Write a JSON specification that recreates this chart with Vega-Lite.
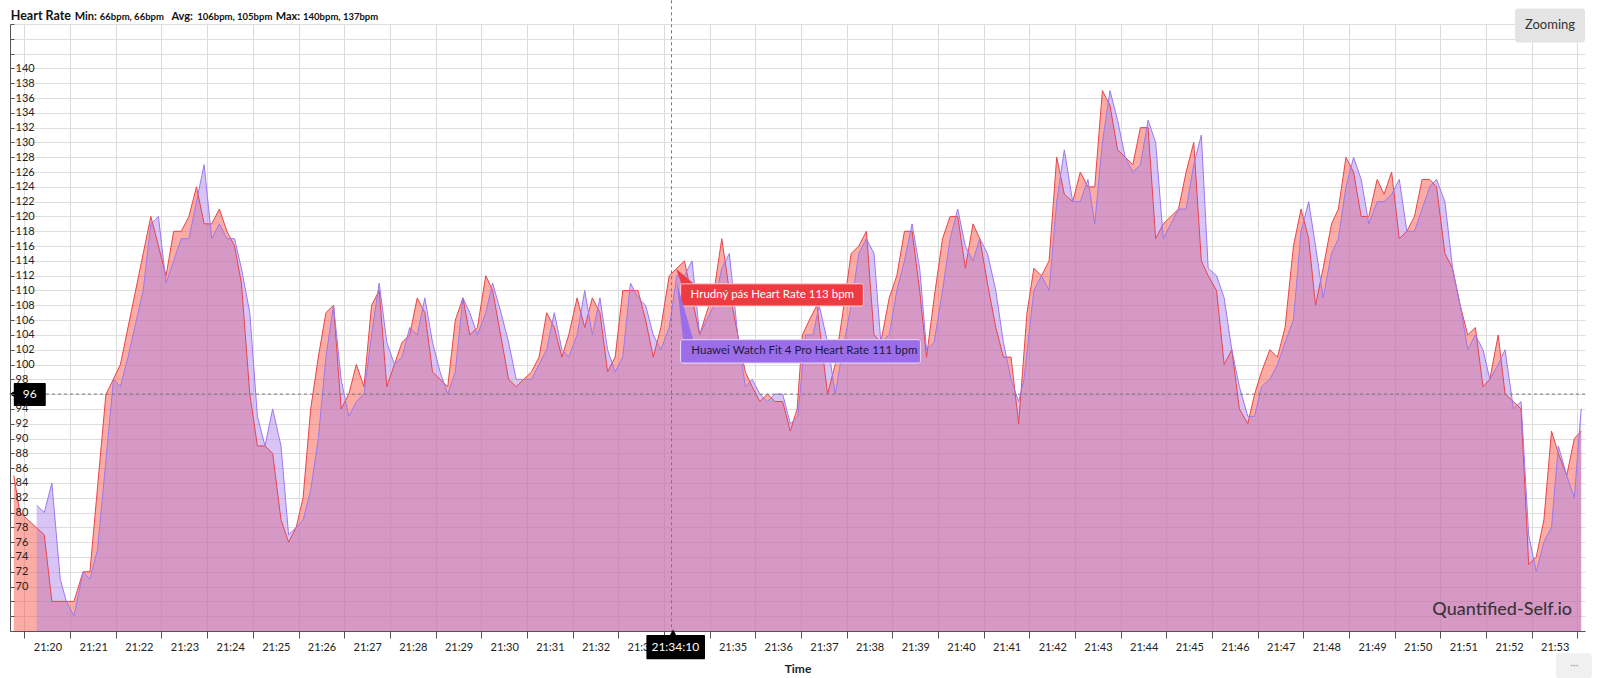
{
  "$schema": "https://vega.github.io/schema/vega-lite/v6.json",
  "width": 1575,
  "height": 607,
  "autosize": {"type": "none"},
  "padding": {"left": 10, "top": 24, "right": 15, "bottom": 47},
  "background": "white",
  "config": {"font": "Lato", "view": {"stroke": null}},
  "resolve": {"axis": {"x": "independent", "y": "independent"}},
  "datasets": {
    "red": [
      {"t":"2024-01-01T21:19:46","v":85},{"t":"2024-01-01T21:19:54","v":80},{"t":"2024-01-01T21:20:26","v":77},{"t":"2024-01-01T21:20:36","v":68},{"t":"2024-01-01T21:21:05","v":68},
      {"t":"2024-01-01T21:21:17","v":72},{"t":"2024-01-01T21:21:26","v":72},{"t":"2024-01-01T21:21:47","v":96},{"t":"2024-01-01T21:21:52","v":97},{"t":"2024-01-01T21:22:06","v":100},
      {"t":"2024-01-01T21:22:46","v":120},{"t":"2024-01-01T21:22:56","v":116},{"t":"2024-01-01T21:23:06","v":112},{"t":"2024-01-01T21:23:16","v":118},{"t":"2024-01-01T21:23:26","v":118},
      {"t":"2024-01-01T21:23:36","v":120},{"t":"2024-01-01T21:23:46","v":124},{"t":"2024-01-01T21:23:56","v":119},{"t":"2024-01-01T21:24:06","v":119},{"t":"2024-01-01T21:24:16","v":121},
      {"t":"2024-01-01T21:24:26","v":118},{"t":"2024-01-01T21:24:36","v":116},{"t":"2024-01-01T21:24:45","v":111},{"t":"2024-01-01T21:24:56","v":96},{"t":"2024-01-01T21:25:06","v":89},
      {"t":"2024-01-01T21:25:16","v":89},{"t":"2024-01-01T21:25:26","v":88},{"t":"2024-01-01T21:25:37","v":79},{"t":"2024-01-01T21:25:47","v":76},{"t":"2024-01-01T21:25:57","v":78},
      {"t":"2024-01-01T21:26:06","v":82},{"t":"2024-01-01T21:26:16","v":94},{"t":"2024-01-01T21:26:26","v":101},{"t":"2024-01-01T21:26:36","v":107},{"t":"2024-01-01T21:26:46","v":108},
      {"t":"2024-01-01T21:26:56","v":94},{"t":"2024-01-01T21:27:06","v":96},{"t":"2024-01-01T21:27:16","v":100},{"t":"2024-01-01T21:27:26","v":97},{"t":"2024-01-01T21:27:36","v":108},
      {"t":"2024-01-01T21:27:46","v":110},{"t":"2024-01-01T21:27:56","v":97},{"t":"2024-01-01T21:28:06","v":100},{"t":"2024-01-01T21:28:16","v":103},{"t":"2024-01-01T21:28:26","v":104},
      {"t":"2024-01-01T21:28:36","v":109},{"t":"2024-01-01T21:28:46","v":107},{"t":"2024-01-01T21:28:56","v":99},{"t":"2024-01-01T21:29:06","v":98},{"t":"2024-01-01T21:29:16","v":97},
      {"t":"2024-01-01T21:29:26","v":106},{"t":"2024-01-01T21:29:36","v":109},{"t":"2024-01-01T21:29:45","v":104},{"t":"2024-01-01T21:29:55","v":105},{"t":"2024-01-01T21:30:06","v":112},
      {"t":"2024-01-01T21:30:15","v":110},{"t":"2024-01-01T21:30:36","v":98},{"t":"2024-01-01T21:30:46","v":97},{"t":"2024-01-01T21:30:56","v":98},{"t":"2024-01-01T21:31:06","v":99},
      {"t":"2024-01-01T21:31:16","v":101},{"t":"2024-01-01T21:31:26","v":107},{"t":"2024-01-01T21:31:36","v":105},{"t":"2024-01-01T21:31:46","v":101},{"t":"2024-01-01T21:31:55","v":104},
      {"t":"2024-01-01T21:32:06","v":109},{"t":"2024-01-01T21:32:16","v":105},{"t":"2024-01-01T21:32:26","v":109},{"t":"2024-01-01T21:32:36","v":107},{"t":"2024-01-01T21:32:46","v":99},
      {"t":"2024-01-01T21:32:56","v":101},{"t":"2024-01-01T21:33:06","v":110},{"t":"2024-01-01T21:33:16","v":110},{"t":"2024-01-01T21:33:26","v":110},{"t":"2024-01-01T21:33:36","v":106},
      {"t":"2024-01-01T21:33:46","v":101},{"t":"2024-01-01T21:33:56","v":105},{"t":"2024-01-01T21:34:07","v":112},{"t":"2024-01-01T21:34:17","v":113},{"t":"2024-01-01T21:34:27","v":114},
      {"t":"2024-01-01T21:34:37","v":109},{"t":"2024-01-01T21:34:47","v":104},{"t":"2024-01-01T21:34:56","v":107},{"t":"2024-01-01T21:35:06","v":110},{"t":"2024-01-01T21:35:16","v":117},
      {"t":"2024-01-01T21:35:26","v":110},{"t":"2024-01-01T21:35:37","v":104},{"t":"2024-01-01T21:35:47","v":99},{"t":"2024-01-01T21:35:56","v":97},{"t":"2024-01-01T21:36:06","v":95},
      {"t":"2024-01-01T21:36:16","v":96},{"t":"2024-01-01T21:36:26","v":95},{"t":"2024-01-01T21:36:36","v":95},{"t":"2024-01-01T21:36:46","v":91},{"t":"2024-01-01T21:36:55","v":94},
      {"t":"2024-01-01T21:37:02","v":104},{"t":"2024-01-01T21:37:11","v":106},{"t":"2024-01-01T21:37:21","v":108},{"t":"2024-01-01T21:37:35","v":96},{"t":"2024-01-01T21:37:45","v":100},
      {"t":"2024-01-01T21:37:55","v":107},{"t":"2024-01-01T21:38:06","v":115},{"t":"2024-01-01T21:38:16","v":116},{"t":"2024-01-01T21:38:26","v":118},{"t":"2024-01-01T21:38:36","v":104},
      {"t":"2024-01-01T21:38:45","v":103},{"t":"2024-01-01T21:38:56","v":109},{"t":"2024-01-01T21:39:06","v":112},{"t":"2024-01-01T21:39:16","v":118},{"t":"2024-01-01T21:39:26","v":118},
      {"t":"2024-01-01T21:39:36","v":110},{"t":"2024-01-01T21:39:45","v":101},{"t":"2024-01-01T21:39:55","v":109},{"t":"2024-01-01T21:40:06","v":117},{"t":"2024-01-01T21:40:16","v":120},
      {"t":"2024-01-01T21:40:26","v":120},{"t":"2024-01-01T21:40:36","v":113},{"t":"2024-01-01T21:40:46","v":119},{"t":"2024-01-01T21:40:55","v":117},{"t":"2024-01-01T21:41:05","v":111},
      {"t":"2024-01-01T21:41:16","v":105},{"t":"2024-01-01T21:41:26","v":101},{"t":"2024-01-01T21:41:36","v":101},{"t":"2024-01-01T21:41:46","v":92},{"t":"2024-01-01T21:41:57","v":107},
      {"t":"2024-01-01T21:42:06","v":113},{"t":"2024-01-01T21:42:16","v":112},{"t":"2024-01-01T21:42:26","v":114},{"t":"2024-01-01T21:42:36","v":128},{"t":"2024-01-01T21:42:46","v":123},
      {"t":"2024-01-01T21:42:57","v":122},{"t":"2024-01-01T21:43:07","v":126},{"t":"2024-01-01T21:43:17","v":124},{"t":"2024-01-01T21:43:26","v":124},{"t":"2024-01-01T21:43:36","v":137},
      {"t":"2024-01-01T21:43:46","v":135},{"t":"2024-01-01T21:43:56","v":129},{"t":"2024-01-01T21:44:06","v":128},{"t":"2024-01-01T21:44:16","v":127},{"t":"2024-01-01T21:44:26","v":132},
      {"t":"2024-01-01T21:44:36","v":132},{"t":"2024-01-01T21:44:46","v":117},{"t":"2024-01-01T21:44:56","v":119},{"t":"2024-01-01T21:45:06","v":120},{"t":"2024-01-01T21:45:16","v":121},
      {"t":"2024-01-01T21:45:26","v":126},{"t":"2024-01-01T21:45:36","v":130},{"t":"2024-01-01T21:45:46","v":114},{"t":"2024-01-01T21:45:55","v":112},{"t":"2024-01-01T21:46:06","v":110},
      {"t":"2024-01-01T21:46:16","v":100},{"t":"2024-01-01T21:46:26","v":102},{"t":"2024-01-01T21:46:36","v":94},{"t":"2024-01-01T21:46:47","v":92},{"t":"2024-01-01T21:46:56","v":96},
      {"t":"2024-01-01T21:47:05","v":99},{"t":"2024-01-01T21:47:16","v":102},{"t":"2024-01-01T21:47:26","v":101},{"t":"2024-01-01T21:47:36","v":105},{"t":"2024-01-01T21:47:47","v":116},
      {"t":"2024-01-01T21:47:57","v":121},{"t":"2024-01-01T21:48:07","v":117},{"t":"2024-01-01T21:48:16","v":108},{"t":"2024-01-01T21:48:26","v":113},{"t":"2024-01-01T21:48:37","v":119},
      {"t":"2024-01-01T21:48:46","v":121},{"t":"2024-01-01T21:48:56","v":128},{"t":"2024-01-01T21:49:06","v":126},{"t":"2024-01-01T21:49:16","v":120},{"t":"2024-01-01T21:49:26","v":120},
      {"t":"2024-01-01T21:49:37","v":125},{"t":"2024-01-01T21:49:46","v":123},{"t":"2024-01-01T21:49:56","v":126},{"t":"2024-01-01T21:50:06","v":117},{"t":"2024-01-01T21:50:16","v":118},
      {"t":"2024-01-01T21:50:26","v":120},{"t":"2024-01-01T21:50:36","v":125},{"t":"2024-01-01T21:50:46","v":125},{"t":"2024-01-01T21:50:55","v":124},{"t":"2024-01-01T21:51:06","v":115},
      {"t":"2024-01-01T21:51:16","v":113},{"t":"2024-01-01T21:51:26","v":108},{"t":"2024-01-01T21:51:36","v":104},{"t":"2024-01-01T21:51:46","v":105},{"t":"2024-01-01T21:51:56","v":97},
      {"t":"2024-01-01T21:52:05","v":98},{"t":"2024-01-01T21:52:16","v":104},{"t":"2024-01-01T21:52:25","v":96},{"t":"2024-01-01T21:52:36","v":95},{"t":"2024-01-01T21:52:46","v":94},
      {"t":"2024-01-01T21:52:56","v":73},{"t":"2024-01-01T21:53:06","v":74},{"t":"2024-01-01T21:53:16","v":79},{"t":"2024-01-01T21:53:26","v":91},{"t":"2024-01-01T21:53:35","v":88},
      {"t":"2024-01-01T21:53:46","v":85},{"t":"2024-01-01T21:53:56","v":90},{"t":"2024-01-01T21:54:05","v":91}
    ],
    "purple": [
      {"t":"2024-01-01T21:20:16","v":81},{"t":"2024-01-01T21:20:26","v":80},{"t":"2024-01-01T21:20:36","v":84},{"t":"2024-01-01T21:20:47","v":71},{"t":"2024-01-01T21:20:55","v":68},
      {"t":"2024-01-01T21:21:05","v":66},{"t":"2024-01-01T21:21:17","v":72},{"t":"2024-01-01T21:21:26","v":71},{"t":"2024-01-01T21:21:36","v":75},{"t":"2024-01-01T21:21:57","v":98},
      {"t":"2024-01-01T21:22:06","v":97},{"t":"2024-01-01T21:22:16","v":101},{"t":"2024-01-01T21:22:36","v":110},{"t":"2024-01-01T21:22:46","v":119},{"t":"2024-01-01T21:22:56","v":120},
      {"t":"2024-01-01T21:23:06","v":111},{"t":"2024-01-01T21:23:16","v":114},{"t":"2024-01-01T21:23:26","v":117},{"t":"2024-01-01T21:23:36","v":117},{"t":"2024-01-01T21:23:46","v":122},
      {"t":"2024-01-01T21:23:56","v":127},{"t":"2024-01-01T21:24:06","v":117},{"t":"2024-01-01T21:24:16","v":119},{"t":"2024-01-01T21:24:26","v":117},{"t":"2024-01-01T21:24:36","v":117},
      {"t":"2024-01-01T21:24:45","v":113},{"t":"2024-01-01T21:24:56","v":107},{"t":"2024-01-01T21:25:06","v":93},{"t":"2024-01-01T21:25:16","v":89},{"t":"2024-01-01T21:25:26","v":94},
      {"t":"2024-01-01T21:25:37","v":89},{"t":"2024-01-01T21:25:47","v":77},{"t":"2024-01-01T21:25:57","v":78},{"t":"2024-01-01T21:26:06","v":79},{"t":"2024-01-01T21:26:16","v":83},
      {"t":"2024-01-01T21:26:26","v":90},{"t":"2024-01-01T21:26:36","v":101},{"t":"2024-01-01T21:26:46","v":108},{"t":"2024-01-01T21:26:56","v":98},{"t":"2024-01-01T21:27:06","v":93},
      {"t":"2024-01-01T21:27:16","v":95},{"t":"2024-01-01T21:27:26","v":96},{"t":"2024-01-01T21:27:36","v":104},{"t":"2024-01-01T21:27:46","v":111},{"t":"2024-01-01T21:27:56","v":103},
      {"t":"2024-01-01T21:28:06","v":100},{"t":"2024-01-01T21:28:16","v":101},{"t":"2024-01-01T21:28:26","v":105},{"t":"2024-01-01T21:28:36","v":104},{"t":"2024-01-01T21:28:46","v":109},
      {"t":"2024-01-01T21:28:56","v":103},{"t":"2024-01-01T21:29:06","v":99},{"t":"2024-01-01T21:29:16","v":96},{"t":"2024-01-01T21:29:26","v":99},{"t":"2024-01-01T21:29:36","v":109},
      {"t":"2024-01-01T21:29:45","v":107},{"t":"2024-01-01T21:29:55","v":104},{"t":"2024-01-01T21:30:06","v":107},{"t":"2024-01-01T21:30:15","v":111},{"t":"2024-01-01T21:30:26","v":107},
      {"t":"2024-01-01T21:30:36","v":103},{"t":"2024-01-01T21:30:46","v":98},{"t":"2024-01-01T21:30:56","v":98},{"t":"2024-01-01T21:31:06","v":98},{"t":"2024-01-01T21:31:16","v":100},
      {"t":"2024-01-01T21:31:26","v":102},{"t":"2024-01-01T21:31:36","v":107},{"t":"2024-01-01T21:31:46","v":102},{"t":"2024-01-01T21:31:55","v":101},{"t":"2024-01-01T21:32:06","v":104},
      {"t":"2024-01-01T21:32:16","v":110},{"t":"2024-01-01T21:32:26","v":104},{"t":"2024-01-01T21:32:36","v":109},{"t":"2024-01-01T21:32:46","v":102},{"t":"2024-01-01T21:32:56","v":99},
      {"t":"2024-01-01T21:33:06","v":101},{"t":"2024-01-01T21:33:16","v":111},{"t":"2024-01-01T21:33:26","v":109},{"t":"2024-01-01T21:33:36","v":108},{"t":"2024-01-01T21:33:46","v":104},
      {"t":"2024-01-01T21:33:56","v":102},{"t":"2024-01-01T21:34:07","v":105},{"t":"2024-01-01T21:34:17","v":112},{"t":"2024-01-01T21:34:27","v":112},{"t":"2024-01-01T21:34:37","v":114},
      {"t":"2024-01-01T21:34:47","v":104},{"t":"2024-01-01T21:34:56","v":106},{"t":"2024-01-01T21:35:06","v":108},{"t":"2024-01-01T21:35:16","v":113},{"t":"2024-01-01T21:35:26","v":115},
      {"t":"2024-01-01T21:35:37","v":104},{"t":"2024-01-01T21:35:47","v":97},{"t":"2024-01-01T21:35:56","v":98},{"t":"2024-01-01T21:36:06","v":96},{"t":"2024-01-01T21:36:16","v":95},
      {"t":"2024-01-01T21:36:26","v":96},{"t":"2024-01-01T21:36:36","v":96},{"t":"2024-01-01T21:36:46","v":92},{"t":"2024-01-01T21:36:56","v":93},{"t":"2024-01-01T21:37:06","v":104},
      {"t":"2024-01-01T21:37:16","v":104},{"t":"2024-01-01T21:37:24","v":108},{"t":"2024-01-01T21:37:35","v":103},{"t":"2024-01-01T21:37:45","v":96},{"t":"2024-01-01T21:37:55","v":102},
      {"t":"2024-01-01T21:38:06","v":108},{"t":"2024-01-01T21:38:16","v":115},{"t":"2024-01-01T21:38:26","v":117},{"t":"2024-01-01T21:38:36","v":115},{"t":"2024-01-01T21:38:45","v":103},
      {"t":"2024-01-01T21:38:56","v":104},{"t":"2024-01-01T21:39:06","v":110},{"t":"2024-01-01T21:39:16","v":114},{"t":"2024-01-01T21:39:26","v":119},{"t":"2024-01-01T21:39:36","v":113},
      {"t":"2024-01-01T21:39:45","v":102},{"t":"2024-01-01T21:39:55","v":103},{"t":"2024-01-01T21:40:06","v":110},{"t":"2024-01-01T21:40:16","v":117},{"t":"2024-01-01T21:40:26","v":121},
      {"t":"2024-01-01T21:40:36","v":116},{"t":"2024-01-01T21:40:46","v":114},{"t":"2024-01-01T21:40:55","v":117},{"t":"2024-01-01T21:41:05","v":115},{"t":"2024-01-01T21:41:16","v":110},
      {"t":"2024-01-01T21:41:26","v":103},{"t":"2024-01-01T21:41:36","v":98},{"t":"2024-01-01T21:41:46","v":95},{"t":"2024-01-01T21:41:53","v":98},{"t":"2024-01-01T21:42:06","v":110},
      {"t":"2024-01-01T21:42:16","v":112},{"t":"2024-01-01T21:42:26","v":110},{"t":"2024-01-01T21:42:36","v":122},{"t":"2024-01-01T21:42:46","v":129},{"t":"2024-01-01T21:42:57","v":122},
      {"t":"2024-01-01T21:43:07","v":122},{"t":"2024-01-01T21:43:17","v":125},{"t":"2024-01-01T21:43:26","v":119},{"t":"2024-01-01T21:43:36","v":130},{"t":"2024-01-01T21:43:46","v":137},
      {"t":"2024-01-01T21:43:56","v":133},{"t":"2024-01-01T21:44:06","v":128},{"t":"2024-01-01T21:44:16","v":126},{"t":"2024-01-01T21:44:26","v":127},{"t":"2024-01-01T21:44:36","v":133},
      {"t":"2024-01-01T21:44:46","v":130},{"t":"2024-01-01T21:44:56","v":117},{"t":"2024-01-01T21:45:06","v":119},{"t":"2024-01-01T21:45:16","v":121},{"t":"2024-01-01T21:45:26","v":121},
      {"t":"2024-01-01T21:45:36","v":127},{"t":"2024-01-01T21:45:46","v":131},{"t":"2024-01-01T21:45:55","v":113},{"t":"2024-01-01T21:46:06","v":112},{"t":"2024-01-01T21:46:16","v":109},
      {"t":"2024-01-01T21:46:26","v":102},{"t":"2024-01-01T21:46:36","v":97},{"t":"2024-01-01T21:46:47","v":93},{"t":"2024-01-01T21:46:56","v":93},{"t":"2024-01-01T21:47:05","v":97},
      {"t":"2024-01-01T21:47:16","v":98},{"t":"2024-01-01T21:47:26","v":100},{"t":"2024-01-01T21:47:36","v":103},{"t":"2024-01-01T21:47:47","v":106},{"t":"2024-01-01T21:47:57","v":118},
      {"t":"2024-01-01T21:48:07","v":122},{"t":"2024-01-01T21:48:16","v":116},{"t":"2024-01-01T21:48:26","v":109},{"t":"2024-01-01T21:48:37","v":115},{"t":"2024-01-01T21:48:46","v":117},
      {"t":"2024-01-01T21:48:56","v":124},{"t":"2024-01-01T21:49:06","v":128},{"t":"2024-01-01T21:49:16","v":125},{"t":"2024-01-01T21:49:26","v":119},{"t":"2024-01-01T21:49:37","v":122},
      {"t":"2024-01-01T21:49:46","v":122},{"t":"2024-01-01T21:49:56","v":123},{"t":"2024-01-01T21:50:06","v":125},{"t":"2024-01-01T21:50:16","v":118},{"t":"2024-01-01T21:50:26","v":118},
      {"t":"2024-01-01T21:50:36","v":121},{"t":"2024-01-01T21:50:46","v":124},{"t":"2024-01-01T21:50:55","v":125},{"t":"2024-01-01T21:51:06","v":122},{"t":"2024-01-01T21:51:16","v":113},
      {"t":"2024-01-01T21:51:26","v":108},{"t":"2024-01-01T21:51:36","v":102},{"t":"2024-01-01T21:51:46","v":104},{"t":"2024-01-01T21:51:56","v":102},{"t":"2024-01-01T21:52:05","v":98},
      {"t":"2024-01-01T21:52:16","v":100},{"t":"2024-01-01T21:52:25","v":102},{"t":"2024-01-01T21:52:36","v":94},{"t":"2024-01-01T21:52:46","v":95},{"t":"2024-01-01T21:52:56","v":77},
      {"t":"2024-01-01T21:53:06","v":72},{"t":"2024-01-01T21:53:16","v":76},{"t":"2024-01-01T21:53:26","v":78},{"t":"2024-01-01T21:53:35","v":89},{"t":"2024-01-01T21:53:46","v":85},
      {"t":"2024-01-01T21:53:56","v":82},{"t":"2024-01-01T21:54:05","v":94}
    ]
  },
  "layer": [
    {
      "data": {"name": "red"},
      "mark": {"type": "area", "color": "#f64e40", "opacity": 0.47},
      "encoding": {
        "x": {
          "field": "t", "type": "temporal",
          "scale": {"domain": [
            {"year": 2024, "month": 1, "date": 1, "hours": 21, "minutes": 19, "seconds": 41},
            {"year": 2024, "month": 1, "date": 1, "hours": 21, "minutes": 54, "seconds": 10}
          ]},
          "axis": {
            "title": "Time", "titleFontWeight": "bold", "titleFontSize": 12, "titleColor": "#222", "titlePadding": 11,
            "orient": "bottom",
            "format": "%H:%M",
            "values": [
              {"year": 2024, "month": 1, "date": 1, "hours": 21, "minutes": 20},
              {"year": 2024, "month": 1, "date": 1, "hours": 21, "minutes": 21},
              {"year": 2024, "month": 1, "date": 1, "hours": 21, "minutes": 22},
              {"year": 2024, "month": 1, "date": 1, "hours": 21, "minutes": 23},
              {"year": 2024, "month": 1, "date": 1, "hours": 21, "minutes": 24},
              {"year": 2024, "month": 1, "date": 1, "hours": 21, "minutes": 25},
              {"year": 2024, "month": 1, "date": 1, "hours": 21, "minutes": 26},
              {"year": 2024, "month": 1, "date": 1, "hours": 21, "minutes": 27},
              {"year": 2024, "month": 1, "date": 1, "hours": 21, "minutes": 28},
              {"year": 2024, "month": 1, "date": 1, "hours": 21, "minutes": 29},
              {"year": 2024, "month": 1, "date": 1, "hours": 21, "minutes": 30},
              {"year": 2024, "month": 1, "date": 1, "hours": 21, "minutes": 31},
              {"year": 2024, "month": 1, "date": 1, "hours": 21, "minutes": 32},
              {"year": 2024, "month": 1, "date": 1, "hours": 21, "minutes": 33},
              {"year": 2024, "month": 1, "date": 1, "hours": 21, "minutes": 34},
              {"year": 2024, "month": 1, "date": 1, "hours": 21, "minutes": 35},
              {"year": 2024, "month": 1, "date": 1, "hours": 21, "minutes": 36},
              {"year": 2024, "month": 1, "date": 1, "hours": 21, "minutes": 37},
              {"year": 2024, "month": 1, "date": 1, "hours": 21, "minutes": 38},
              {"year": 2024, "month": 1, "date": 1, "hours": 21, "minutes": 39},
              {"year": 2024, "month": 1, "date": 1, "hours": 21, "minutes": 40},
              {"year": 2024, "month": 1, "date": 1, "hours": 21, "minutes": 41},
              {"year": 2024, "month": 1, "date": 1, "hours": 21, "minutes": 42},
              {"year": 2024, "month": 1, "date": 1, "hours": 21, "minutes": 43},
              {"year": 2024, "month": 1, "date": 1, "hours": 21, "minutes": 44},
              {"year": 2024, "month": 1, "date": 1, "hours": 21, "minutes": 45},
              {"year": 2024, "month": 1, "date": 1, "hours": 21, "minutes": 46},
              {"year": 2024, "month": 1, "date": 1, "hours": 21, "minutes": 47},
              {"year": 2024, "month": 1, "date": 1, "hours": 21, "minutes": 48},
              {"year": 2024, "month": 1, "date": 1, "hours": 21, "minutes": 49},
              {"year": 2024, "month": 1, "date": 1, "hours": 21, "minutes": 50},
              {"year": 2024, "month": 1, "date": 1, "hours": 21, "minutes": 51},
              {"year": 2024, "month": 1, "date": 1, "hours": 21, "minutes": 52},
              {"year": 2024, "month": 1, "date": 1, "hours": 21, "minutes": 53},
              {"year": 2024, "month": 1, "date": 1, "hours": 21, "minutes": 54}
            ],
            "labelExpr": "datum.label == '21:54' || datum.label == '21:34' ? '' : datum.label",
            "labelOffset": 23, "labelFlush": false, "labelOverlap": false,
            "labelFontSize": 11, "labelColor": "#222", "labelPadding": 3,
            "tickSize": 7, "tickColor": "#555", "domainColor": "#555",
            "grid": true, "gridColor": "#dcdcdc"
          }
        },
        "y": {
          "field": "v", "type": "quantitative",
          "scale": {"domain": [64, 146], "zero": false, "nice": false},
          "axis": {
            "title": null, "orient": "left",
            "values": [64,66,68,70,72,74,76,78,80,82,84,86,88,90,92,94,96,98,100,102,104,106,108,110,112,114,116,118,120,122,124,126,128,130,132,134,136,138,140,142,144,146],
            "grid": true, "gridColor": "#dedede", "labels": false, "ticks": false, "domain": false
          }
        },
        "y2": {"datum": 64}
      }
    },
    {
      "data": {"name": "purple"},
      "mark": {"type": "area", "color": "#ac84ea", "opacity": 0.47},
      "encoding": {
        "x": {"field": "t", "type": "temporal", "axis": null},
        "y": {
          "field": "v", "type": "quantitative",
          "axis": {
            "title": null, "orient": "left", "zindex": 1,
            "values": [64,66,68,70,72,74,76,78,80,82,84,86,88,90,92,94,96,98,100,102,104,106,108,110,112,114,116,118,120,122,124,126,128,130,132,134,136,138,140,142,144,146],
            "labelExpr": "datum.value >= 70 && datum.value <= 140 && datum.value != 96 ? datum.label : ''",
            "labelAlign": "left", "labelBaseline": "middle", "tickSize": -4, "labelPadding": -1,
            "labelFontSize": 11, "labelColor": "#222", "labelOverlap": false, "labelFlush": false,
            "tickColor": "#555", "domainColor": "#555", "grid": false
          }
        },
        "y2": {"datum": 64}
      }
    },
    {
      "data": {"name": "red"},
      "mark": {"type": "line", "color": "#e8444c", "strokeWidth": 1},
      "encoding": {
        "x": {"field": "t", "type": "temporal", "axis": null},
        "y": {"field": "v", "type": "quantitative", "axis": null}
      }
    },
    {
      "data": {"name": "purple"},
      "mark": {"type": "line", "color": "#9b78ee", "strokeWidth": 1},
      "encoding": {
        "x": {"field": "t", "type": "temporal", "axis": null},
        "y": {"field": "v", "type": "quantitative", "axis": null}
      }
    },
    {
      "data": {"values": [{}]},
      "mark": {"type": "rule", "color": "#777", "strokeDash": [3, 3], "strokeWidth": 1},
      "encoding": {
        "x": {"datum": {"year": 2024, "month": 1, "date": 1, "hours": 21, "minutes": 34, "seconds": 10}, "type": "temporal", "axis": null},
        "y": {"datum": 149.2, "type": "quantitative", "axis": null},
        "y2": {"datum": 64}
      }
    },
    {
      "data": {"values": [{}]},
      "mark": {"type": "rule", "color": "#777", "strokeDash": [3, 3], "strokeWidth": 1},
      "encoding": {
        "y": {"datum": 96, "type": "quantitative", "axis": null}
      }
    },
    {
      "data": {"values": [{}]},
      "mark": {"type": "rect", "color": "#000", "cornerRadius": 1},
      "encoding": {
        "x": {"datum": {"year": 2024, "month": 1, "date": 1, "hours": 21, "minutes": 19, "seconds": 46}, "type": "temporal", "axis": null},
        "x2": {"datum": {"year": 2024, "month": 1, "date": 1, "hours": 21, "minutes": 20, "seconds": 28}},
        "y": {"datum": 97.5, "type": "quantitative", "axis": null},
        "y2": {"datum": 94.4}
      }
    },
    {
      "data": {"values": [{}]},
      "mark": {"type": "point", "shape": "triangle-left", "filled": true, "color": "#000", "size": 45, "opacity": 1},
      "encoding": {
        "x": {"datum": {"year": 2024, "month": 1, "date": 1, "hours": 21, "minutes": 19, "seconds": 44}, "type": "temporal", "axis": null},
        "y": {"datum": 96, "type": "quantitative", "axis": null}
      }
    },
    {
      "data": {"values": [{}]},
      "mark": {"type": "text", "text": "96", "color": "#fff", "fontSize": 12, "align": "center", "baseline": "middle"},
      "encoding": {
        "x": {"datum": {"year": 2024, "month": 1, "date": 1, "hours": 21, "minutes": 20, "seconds": 7}, "type": "temporal", "axis": null},
        "y": {"datum": 96, "type": "quantitative", "axis": null}
      }
    },
    {
      "data": {"values": [{}]},
      "mark": {"type": "rect", "color": "#000", "cornerRadius": 1},
      "encoding": {
        "x": {"datum": {"year": 2024, "month": 1, "date": 1, "hours": 21, "minutes": 33, "seconds": 37}, "type": "temporal", "axis": null},
        "x2": {"datum": {"year": 2024, "month": 1, "date": 1, "hours": 21, "minutes": 34, "seconds": 54}},
        "y": {"datum": 63.45, "type": "quantitative", "axis": null},
        "y2": {"datum": 60.2}
      }
    },
    {
      "data": {"values": [{}]},
      "mark": {"type": "point", "shape": "triangle-up", "filled": true, "color": "#000", "size": 45, "opacity": 1},
      "encoding": {
        "x": {"datum": {"year": 2024, "month": 1, "date": 1, "hours": 21, "minutes": 34, "seconds": 12}, "type": "temporal", "axis": null},
        "y": {"datum": 63.8, "type": "quantitative", "axis": null}
      }
    },
    {
      "data": {"values": [{}]},
      "mark": {"type": "text", "text": "21:34:10", "color": "#fff", "fontSize": 12, "align": "center", "baseline": "middle"},
      "encoding": {
        "x": {"datum": {"year": 2024, "month": 1, "date": 1, "hours": 21, "minutes": 34, "seconds": 15}, "type": "temporal", "axis": null},
        "y": {"datum": 61.8, "type": "quantitative", "axis": null}
      }
    },
    {
      "data": {"values": [{}]},
      "mark": {"type": "point", "shape": "M0,0L0.36,1L1.21,1Z", "filled": true, "color": "#ef3a42", "size": 986, "opacity": 1},
      "encoding": {
        "x": {"datum": {"year": 2024, "month": 1, "date": 1, "hours": 21, "minutes": 34, "seconds": 16}, "type": "temporal", "axis": null},
        "y": {"datum": 112.9, "type": "quantitative", "axis": null}
      }
    },
    {
      "data": {"values": [{}]},
      "mark": {"type": "rect", "color": "#ef3a42", "stroke": "#fbd0d0", "strokeWidth": 1, "cornerRadius": 2},
      "encoding": {
        "x": {"datum": {"year": 2024, "month": 1, "date": 1, "hours": 21, "minutes": 34, "seconds": 22}, "type": "temporal", "axis": null},
        "x2": {"datum": {"year": 2024, "month": 1, "date": 1, "hours": 21, "minutes": 38, "seconds": 22}},
        "y": {"datum": 110.9, "type": "quantitative", "axis": null},
        "y2": {"datum": 107.9}
      }
    },
    {
      "data": {"values": [{}]},
      "mark": {"type": "text", "text": "Hrudný pás Heart Rate 113 bpm", "color": "#fff", "fontSize": 11.5, "align": "left", "baseline": "middle"},
      "encoding": {
        "x": {"datum": {"year": 2024, "month": 1, "date": 1, "hours": 21, "minutes": 34, "seconds": 35}, "type": "temporal", "axis": null},
        "y": {"datum": 109.4, "type": "quantitative", "axis": null}
      }
    },
    {
      "data": {"values": [{}]},
      "mark": {"type": "point", "shape": "M0,0L0.11,1L0.29,1Z", "filled": true, "color": "#9b6de8", "size": 12996, "opacity": 1},
      "encoding": {
        "x": {"datum": {"year": 2024, "month": 1, "date": 1, "hours": 21, "minutes": 34, "seconds": 17}, "type": "temporal", "axis": null},
        "y": {"datum": 111.0, "type": "quantitative", "axis": null}
      }
    },
    {
      "data": {"values": [{}]},
      "mark": {"type": "rect", "color": "#9b6de8", "stroke": "#e6dcfa", "strokeWidth": 1, "cornerRadius": 2},
      "encoding": {
        "x": {"datum": {"year": 2024, "month": 1, "date": 1, "hours": 21, "minutes": 34, "seconds": 22}, "type": "temporal", "axis": null},
        "x2": {"datum": {"year": 2024, "month": 1, "date": 1, "hours": 21, "minutes": 39, "seconds": 37}},
        "y": {"datum": 103.35, "type": "quantitative", "axis": null},
        "y2": {"datum": 100.2}
      }
    },
    {
      "data": {"values": [{}]},
      "mark": {"type": "text", "text": "Huawei Watch Fit 4 Pro Heart Rate 111 bpm", "color": "#1e1a40", "fontSize": 11.5, "align": "left", "baseline": "middle"},
      "encoding": {
        "x": {"datum": {"year": 2024, "month": 1, "date": 1, "hours": 21, "minutes": 34, "seconds": 36}, "type": "temporal", "axis": null},
        "y": {"datum": 101.8, "type": "quantitative", "axis": null}
      }
    },
    {
      "data": {"values": [{}]},
      "mark": {"type": "rect", "color": "#e4e4e4", "cornerRadius": 3},
      "encoding": {
        "x": {"datum": {"year": 2024, "month": 1, "date": 1, "hours": 21, "minutes": 52, "seconds": 38}, "type": "temporal", "axis": null},
        "x2": {"datum": {"year": 2024, "month": 1, "date": 1, "hours": 21, "minutes": 54, "seconds": 10}},
        "y": {"datum": 148.1, "type": "quantitative", "axis": null},
        "y2": {"datum": 143.5}
      }
    },
    {
      "data": {"values": [{}]},
      "mark": {"type": "text", "text": "Zooming", "color": "#333", "fontSize": 13, "align": "center", "baseline": "middle"},
      "encoding": {
        "x": {"datum": {"year": 2024, "month": 1, "date": 1, "hours": 21, "minutes": 53, "seconds": 24}, "type": "temporal", "axis": null},
        "y": {"datum": 145.8, "type": "quantitative", "axis": null}
      }
    },
    {
      "data": {"values": [{}]},
      "mark": {"type": "text", "text": "Quantified-Self.io", "color": "#2b2b2b", "fontSize": 18, "fontWeight": 500, "align": "right", "baseline": "alphabetic", "opacity": 0.9},
      "encoding": {
        "x": {"datum": {"year": 2024, "month": 1, "date": 1, "hours": 21, "minutes": 53, "seconds": 53}, "type": "temporal", "axis": null},
        "y": {"datum": 66.2, "type": "quantitative", "axis": null}
      }
    },
    {
      "data": {"values": [{}]},
      "mark": {"type": "rect", "color": "#f0f0f0", "cornerRadius": 3},
      "encoding": {
        "x": {"datum": {"year": 2024, "month": 1, "date": 1, "hours": 21, "minutes": 53, "seconds": 32}, "type": "temporal", "axis": null},
        "x2": {"datum": {"year": 2024, "month": 1, "date": 1, "hours": 21, "minutes": 54, "seconds": 19}},
        "y": {"datum": 61.0, "type": "quantitative", "axis": null},
        "y2": {"datum": 57.6}
      }
    },
    {
      "data": {"values": [{}]},
      "mark": {"type": "text", "text": "···", "color": "#999", "fontSize": 10, "align": "center", "baseline": "middle"},
      "encoding": {
        "x": {"datum": {"year": 2024, "month": 1, "date": 1, "hours": 21, "minutes": 53, "seconds": 56}, "type": "temporal", "axis": null},
        "y": {"datum": 59.4, "type": "quantitative", "axis": null}
      }
    },
    {
      "data": {"values": [{}]},
      "mark": {"type": "text", "text": "Heart Rate", "color": "#111", "fontSize": 12.5, "fontWeight": "bold", "align": "left", "baseline": "alphabetic"},
      "encoding": {
        "x": {"datum": {"year": 2024, "month": 1, "date": 1, "hours": 21, "minutes": 19, "seconds": 42}, "type": "temporal", "axis": null},
        "y": {"datum": 146.54, "type": "quantitative", "axis": null}
      }
    },
    {
      "data": {"values": [{}]},
      "mark": {"type": "text", "text": "Min:", "color": "#111", "fontSize": 11, "fontWeight": "bold", "align": "left", "baseline": "alphabetic"},
      "encoding": {
        "x": {"datum": {"year": 2024, "month": 1, "date": 1, "hours": 21, "minutes": 21, "seconds": 6}, "type": "temporal", "axis": null},
        "y": {"datum": 146.54, "type": "quantitative", "axis": null}
      }
    },
    {
      "data": {"values": [{}]},
      "mark": {"type": "text", "text": "66bpm, 66bpm", "color": "#111", "fontSize": 9.5, "fontWeight": "bold", "align": "left", "baseline": "alphabetic"},
      "encoding": {
        "x": {"datum": {"year": 2024, "month": 1, "date": 1, "hours": 21, "minutes": 21, "seconds": 39}, "type": "temporal", "axis": null},
        "y": {"datum": 146.54, "type": "quantitative", "axis": null}
      }
    },
    {
      "data": {"values": [{}]},
      "mark": {"type": "text", "text": "Avg:", "color": "#111", "fontSize": 11, "fontWeight": "bold", "align": "left", "baseline": "alphabetic"},
      "encoding": {
        "x": {"datum": {"year": 2024, "month": 1, "date": 1, "hours": 21, "minutes": 23, "seconds": 13}, "type": "temporal", "axis": null},
        "y": {"datum": 146.54, "type": "quantitative", "axis": null}
      }
    },
    {
      "data": {"values": [{}]},
      "mark": {"type": "text", "text": "106bpm, 105bpm", "color": "#111", "fontSize": 9.5, "fontWeight": "bold", "align": "left", "baseline": "alphabetic"},
      "encoding": {
        "x": {"datum": {"year": 2024, "month": 1, "date": 1, "hours": 21, "minutes": 23, "seconds": 47}, "type": "temporal", "axis": null},
        "y": {"datum": 146.54, "type": "quantitative", "axis": null}
      }
    },
    {
      "data": {"values": [{}]},
      "mark": {"type": "text", "text": "Max:", "color": "#111", "fontSize": 11, "fontWeight": "bold", "align": "left", "baseline": "alphabetic"},
      "encoding": {
        "x": {"datum": {"year": 2024, "month": 1, "date": 1, "hours": 21, "minutes": 25, "seconds": 30}, "type": "temporal", "axis": null},
        "y": {"datum": 146.54, "type": "quantitative", "axis": null}
      }
    },
    {
      "data": {"values": [{}]},
      "mark": {"type": "text", "text": "140bpm, 137bpm", "color": "#111", "fontSize": 9.5, "fontWeight": "bold", "align": "left", "baseline": "alphabetic"},
      "encoding": {
        "x": {"datum": {"year": 2024, "month": 1, "date": 1, "hours": 21, "minutes": 26, "seconds": 6}, "type": "temporal", "axis": null},
        "y": {"datum": 146.54, "type": "quantitative", "axis": null}
      }
    }
  ]
}
